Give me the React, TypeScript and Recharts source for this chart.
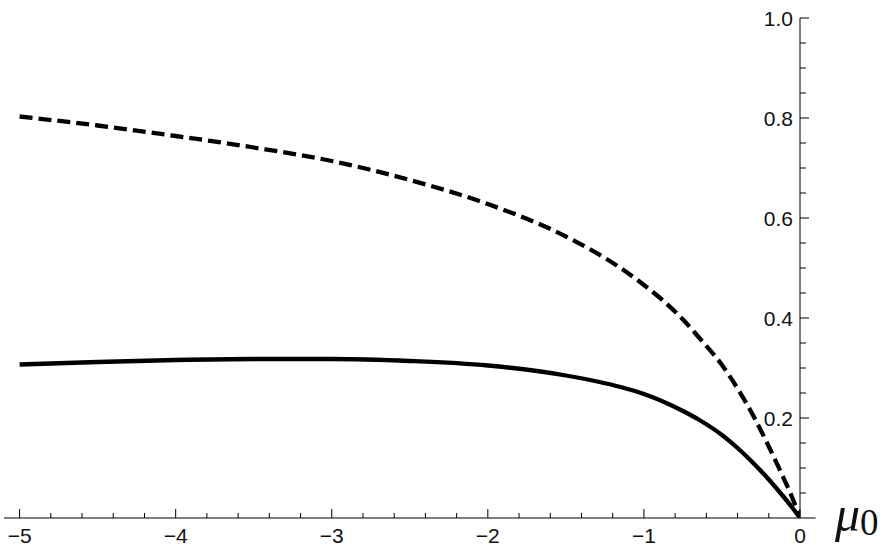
import { LineChart, Line, XAxis, YAxis, ReferenceLine } from 'recharts';

// mu_0 sample points and the two curves
const MU = [-5, -4.5, -4, -3.5, -3, -2.5, -2, -1.5, -1.15, -1, -0.9, -0.75, -0.65, -0.5, -0.4, -0.3, -0.2, -0.12, -0.05, 0];
const UPPER = [0.803, 0.785, 0.764, 0.741, 0.714, 0.676, 0.628, 0.563, 0.5, 0.466, 0.441, 0.397, 0.362, 0.306, 0.259, 0.205, 0.143, 0.09, 0.041, 0];
const LOWER = [0.307, 0.312, 0.316, 0.318, 0.318, 0.314, 0.305, 0.285, 0.262, 0.248, 0.236, 0.214, 0.197, 0.166, 0.14, 0.11, 0.077, 0.048, 0.021, 0];

const X_TICKS = [-5, -4.8, -4.6, -4.4, -4.2, -4, -3.8, -3.6, -3.4, -3.2, -3, -2.8, -2.6, -2.4, -2.2, -2, -1.8, -1.6, -1.4, -1.2, -1, -0.8, -0.6, -0.4, -0.2, 0];
const Y_TICKS = [0.05, 0.1, 0.15, 0.2, 0.25, 0.3, 0.35, 0.4, 0.45, 0.5, 0.55, 0.6, 0.65, 0.7, 0.75, 0.8, 0.85, 0.9, 0.95, 1.0];

const data = MU.map((m, i) => ({ mu: m, upper: UPPER[i], lower: LOWER[i] }));

const FONT = '"Liberation Sans", Arial, sans-serif';

const XTick = (props: any) => {
  const { x, y, payload } = props;
  const v = payload.value;
  const major = Math.abs(v - Math.round(v)) < 1e-6;
  return (
    <g>
      <line x1={x} x2={x} y1={y} y2={y - (major ? 9 : 5)} stroke="#000" strokeWidth={1} />
      {major && (
        <text x={x} y={y + 25} textAnchor="middle" fill="#111" style={{ fontSize: 21, fontFamily: FONT }}>
          {v === 0 ? '0' : '\u2212' + Math.abs(Math.round(v))}
        </text>
      )}
    </g>
  );
};

const YTick = (props: any) => {
  const { x, y, payload } = props;
  const v = payload.value;
  const major = Math.abs(v * 5 - Math.round(v * 5)) < 1e-6;
  return (
    <g>
      <line x1={x} x2={x + (major ? 9 : 6)} y1={y} y2={y} stroke="#000" strokeWidth={1} />
      {major && (
        <text x={x - 7} y={y} dy="0.36em" textAnchor="end" fill="#111" style={{ fontSize: 21, fontFamily: FONT }}>
          {v.toFixed(1)}
        </text>
      )}
    </g>
  );
};

const MuLabel = (props: any) => {
  const { viewBox } = props;
  const x = viewBox.x + viewBox.width + 35;
  const y = viewBox.y + 13;
  return (
    <text x={x} y={y} fill="#111" style={{ fontFamily: '"Liberation Serif", "DejaVu Serif", serif' }}>
      <tspan style={{ fontStyle: 'italic', fontSize: 50 }}>μ</tspan>
      <tspan style={{ fontSize: 37 }} dy={4}>0</tspan>
    </text>
  );
};

export default function App() {
  return (
    <div style={{ position: 'absolute', left: 0, top: 0, background: '#fff' }}>
      <LineChart width={887} height={550} data={data} margin={{ top: 18, right: 86, bottom: 0, left: 4 }}>
        <XAxis
          dataKey="mu"
          type="number"
          domain={[-5.1, 0]}
          ticks={X_TICKS}
          interval={0}
          height={32}
          tickSize={0}
          tickMargin={0}
          tick={<XTick />}
          axisLine={{ stroke: '#000', strokeWidth: 1 }}
          label={{ content: <MuLabel /> }}
          allowDataOverflow
        />
        <YAxis
          orientation="right"
          type="number"
          domain={[0, 1]}
          ticks={Y_TICKS}
          interval={0}
          width={1}
          tickSize={0}
          tickMargin={0}
          tick={<YTick />}
          axisLine={{ stroke: '#000', strokeWidth: 1 }}
          allowDataOverflow
        />
        <ReferenceLine
          segment={[{ x: 0, y: 0 }, { x: 0.1, y: 0 }]}
          stroke="#000"
          strokeWidth={1}
          ifOverflow="visible"
        />
        <Line
          type="monotone"
          dataKey="upper"
          stroke="#000"
          strokeWidth={4.3}
          strokeDasharray="13 6"
          dot={false}
          isAnimationActive={false}
        />
        <Line
          type="monotone"
          dataKey="lower"
          stroke="#000"
          strokeWidth={4.3}
          dot={false}
          isAnimationActive={false}
        />
      </LineChart>
    </div>
  );
}
